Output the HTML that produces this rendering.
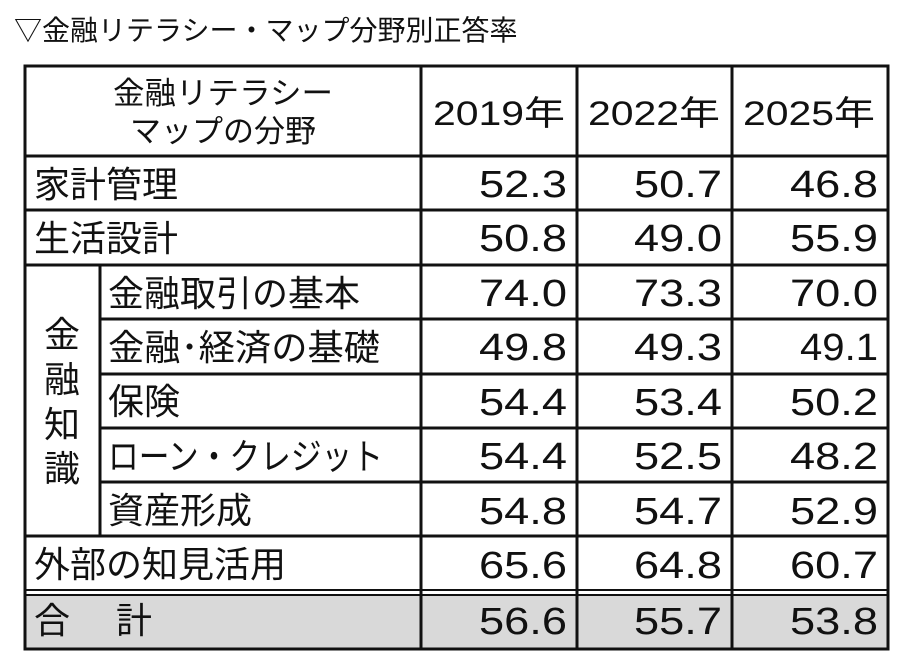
<!DOCTYPE html>
<html><head><meta charset="utf-8"><style>
html,body{margin:0;padding:0;background:#fff;width:902px;height:664px;overflow:hidden}
text{font-family:"Liberation Sans","Noto Sans CJK JP",sans-serif;fill:#111}
.j{font-size:36px}
.n{font-size:38px;text-anchor:end}
</style></head><body>
<svg width="902" height="664" xmlns="http://www.w3.org/2000/svg">
<text x="14" y="40" style="font-size:28px">▽金融リテラシー・マップ分野別正答率</text>
<rect x="25" y="594" width="863" height="55" fill="#d9d9d9"/>
<g stroke="#111" stroke-width="3" fill="none">
<rect x="25" y="66" width="863" height="583"/>
<line x1="25" y1="156" x2="888" y2="156"/>
<line x1="25" y1="210" x2="888" y2="210"/>
<line x1="25" y1="265" x2="888" y2="265"/>
<line x1="100" y1="319" x2="888" y2="319"/>
<line x1="100" y1="374" x2="888" y2="374"/>
<line x1="100" y1="428" x2="888" y2="428"/>
<line x1="100" y1="482" x2="888" y2="482"/>
<line x1="25" y1="536" x2="888" y2="536"/>
<line x1="25" y1="590" x2="888" y2="590" stroke-width="2"/>
<line x1="25" y1="595" x2="888" y2="595" stroke-width="2"/>
<line x1="100" y1="265" x2="100" y2="536"/>
<line x1="421" y1="66" x2="421" y2="649"/>
<line x1="577" y1="66" x2="577" y2="649"/>
<line x1="732" y1="66" x2="732" y2="649"/>
</g>
<text x="113" y="104" style="font-size:31px" textLength="220" lengthAdjust="spacingAndGlyphs">金融リテラシー</text>
<text x="223" y="142" style="font-size:31px;text-anchor:middle">マップの分野</text>
<text x="433" y="125" style="font-size:34px" textLength="132" lengthAdjust="spacingAndGlyphs">2019年</text>
<text x="588" y="125" style="font-size:34px" textLength="132" lengthAdjust="spacingAndGlyphs">2022年</text>
<text x="743" y="125" style="font-size:34px" textLength="132" lengthAdjust="spacingAndGlyphs">2025年</text>
<text class="j" x="34" y="197">家計管理</text>
<text class="j" x="34" y="251">生活設計</text>
<text class="j" x="108" y="306">金融取引の基本</text>
<text class="j" x="108" y="360" textLength="272" lengthAdjust="spacingAndGlyphs">金融･経済の基礎</text>
<text class="j" x="108" y="414">保険</text>
<text class="j" x="108" y="469" textLength="275" lengthAdjust="spacingAndGlyphs">ローン・クレジット</text>
<text class="j" x="108" y="523">資産形成</text>
<text class="j" x="34" y="577">外部の知見活用</text>
<text class="j" x="34" y="633">合　 計</text>
<text class="j" x="44" y="347">金</text>
<text class="j" x="44" y="392">融</text>
<text class="j" x="44" y="437">知</text>
<text class="j" x="44" y="481">識</text>
<g>
<text class="n" x="567" y="197" textLength="88" lengthAdjust="spacingAndGlyphs">52.3</text><text class="n" x="722" y="197" textLength="88" lengthAdjust="spacingAndGlyphs">50.7</text><text class="n" x="878" y="197" textLength="88" lengthAdjust="spacingAndGlyphs">46.8</text>
<text class="n" x="567" y="251" textLength="88" lengthAdjust="spacingAndGlyphs">50.8</text><text class="n" x="722" y="251" textLength="88" lengthAdjust="spacingAndGlyphs">49.0</text><text class="n" x="878" y="251" textLength="88" lengthAdjust="spacingAndGlyphs">55.9</text>
<text class="n" x="567" y="306" textLength="88" lengthAdjust="spacingAndGlyphs">74.0</text><text class="n" x="722" y="306" textLength="88" lengthAdjust="spacingAndGlyphs">73.3</text><text class="n" x="878" y="306" textLength="88" lengthAdjust="spacingAndGlyphs">70.0</text>
<text class="n" x="567" y="360" textLength="88" lengthAdjust="spacingAndGlyphs">49.8</text><text class="n" x="722" y="360" textLength="88" lengthAdjust="spacingAndGlyphs">49.3</text><text class="n" x="878" y="360" textLength="78" lengthAdjust="spacingAndGlyphs">49.1</text>
<text class="n" x="567" y="415" textLength="88" lengthAdjust="spacingAndGlyphs">54.4</text><text class="n" x="722" y="415" textLength="88" lengthAdjust="spacingAndGlyphs">53.4</text><text class="n" x="878" y="415" textLength="88" lengthAdjust="spacingAndGlyphs">50.2</text>
<text class="n" x="567" y="469" textLength="88" lengthAdjust="spacingAndGlyphs">54.4</text><text class="n" x="722" y="469" textLength="88" lengthAdjust="spacingAndGlyphs">52.5</text><text class="n" x="878" y="469" textLength="88" lengthAdjust="spacingAndGlyphs">48.2</text>
<text class="n" x="567" y="524" textLength="88" lengthAdjust="spacingAndGlyphs">54.8</text><text class="n" x="722" y="524" textLength="88" lengthAdjust="spacingAndGlyphs">54.7</text><text class="n" x="878" y="524" textLength="88" lengthAdjust="spacingAndGlyphs">52.9</text>
<text class="n" x="567" y="578" textLength="88" lengthAdjust="spacingAndGlyphs">65.6</text><text class="n" x="722" y="578" textLength="88" lengthAdjust="spacingAndGlyphs">64.8</text><text class="n" x="878" y="578" textLength="88" lengthAdjust="spacingAndGlyphs">60.7</text>
<text class="n" x="567" y="634" textLength="88" lengthAdjust="spacingAndGlyphs">56.6</text><text class="n" x="722" y="634" textLength="88" lengthAdjust="spacingAndGlyphs">55.7</text><text class="n" x="878" y="634" textLength="88" lengthAdjust="spacingAndGlyphs">53.8</text>
</g>
</svg>
</body></html>
